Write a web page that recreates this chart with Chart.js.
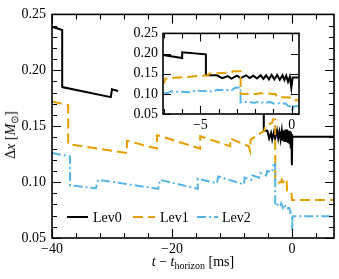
<!DOCTYPE html>
<html><head><meta charset="utf-8">
<script src="https://cdn.jsdelivr.net/npm/chart.js@4/dist/chart.umd.min.js"></script>
<style>
html,body{margin:0;padding:0;background:#fff;}
#wrap{position:relative;width:339px;height:279px;overflow:hidden;font-family:"Liberation Serif",serif;}
#main{position:absolute;left:0;top:0;}
#inset{position:absolute;left:120px;top:20px;}
.ttl{position:absolute;font-size:14px;color:#000;white-space:nowrap;line-height:1;}
.ttl sub{font-size:10px;vertical-align:-3px;line-height:0;}
#ylab{left:11px;top:135px;transform:translate(-50%,-50%) rotate(-90deg);}
#xlab{left:193px;top:262px;transform:translate(-50%,-50%);}
</style></head><body>
<div id="wrap">
<canvas id="main" width="339" height="279"></canvas>
<canvas id="inset" width="185" height="125"></canvas>
<div class="ttl" id="ylab">Δ<i>x</i> [<i>M</i><sub>⊙</sub>]</div>
<div class="ttl" id="xlab"><i>t</i> − <i>t</i><sub>horizon</sub> [ms]</div>
</div>
<script>
// ---- data (t in ms, Δx in solar masses) ----
const seriesNames = ['Lev0', 'Lev1', 'Lev2'];
const lev0T = [-40, -38.3, -38.3, -30.2, -30.0, -29.0, -20.0, -7.1, -6.0, -6.0, -4.7, -4.7, -4.1, -3.8, -3.5, -3.3, -3.0, -2.8, -2.5, -2.3, -2.1, -1.9, -1.7, -1.55, -1.4, -1.25, -1.1, -0.95, -0.8, -0.65, -0.5, -0.4, -0.3, -0.2, -0.1, -0.02, 0.05, 7];
const lev0V = [0.239, 0.236, 0.185, 0.176, 0.183, 0.1815, null, 0.197, 0.189, 0.203, 0.198, 0.146, 0.146, 0.139, 0.144, 0.138, 0.145, 0.139, 0.146, 0.139, 0.145, 0.138, 0.146, 0.137, 0.146, 0.136, 0.147, 0.136, 0.147, 0.135, 0.146, 0.134, 0.145, 0.130, 0.143, 0.115, 0.1405, 0.1405];
const lev1T = [-40, -37.3, -37.3, -27.5, -27.5, -22.5, -22.5, -15.3, -15.3, -10.3, -10.3, -7.2, -7.0, -6.9, -4.6, -4.5, -3.3, -3.2, -2.8, -2.8, -2.3, -1.8, -1.7, -1.5, -1.3, -1.1, -0.9, -0.8, -0.1, 0.0, 7];
const lev1V = [0.172, 0.169, 0.134, 0.126, 0.137, 0.130, 0.142, 0.130, 0.141, 0.132, 0.139, 0.132, 0.128, 0.138, 0.146, 0.150, 0.153, 0.156, 0.156, 0.100, 0.0995, 0.100, 0.102, 0.100, 0.102, 0.099, 0.100, 0.092, 0.091, 0.084, 0.084];
const lev2T = [-40, -37.0, -37.0, -32.7, -32.3, -22.3, -22.0, -15.7, -15.7, -12.5, -12.3, -8.0, -7.9, -6.8, -6.6, -5.5, -5.3, -4.3, -4.1, -3.3, -3.1, -2.8, -2.8, -2.5, -2.0, -1.8, -1.5, -1.2, -1.0, -0.5, -0.3, -0.2, 0.0, 0.05, 0.1, 7];
const lev2V = [0.126, 0.123, 0.097, 0.0945, 0.102, 0.094, 0.102, 0.094, 0.103, 0.099, 0.105, 0.098, 0.104, 0.102, 0.106, 0.104, 0.108, 0.106, 0.110, 0.109, 0.115, 0.116, 0.079, 0.080, 0.078, 0.081, 0.077, 0.080, 0.076, 0.077, 0.075, 0.070, 0.068, 0.057, 0.0695, 0.0695];

// ---- ticks ----
const mainXTicks = [-40, -36, -32, -28, -24, -20, -16, -12, -8, -4, 0, 4];
const mainXLabels = [-40, -20, 0];
const mainYTicks = [0.05, 0.06, 0.07, 0.08, 0.09, 0.10, 0.11, 0.12, 0.13, 0.14, 0.15, 0.16, 0.17, 0.18, 0.19, 0.20, 0.21, 0.22, 0.23, 0.24, 0.25];
const mainYLabels = [0.05, 0.10, 0.15, 0.20, 0.25];
const insetXTicks = [-7, -6, -5, -4, -3, -2, -1, 0];
const insetXLabels = [-5, 0];
const insetYTicks = [0.05, 0.10, 0.15, 0.20, 0.25];
const insetYLabels = [0.05, 0.10, 0.15, 0.20, 0.25];

const colors = ['#000000', '#E69F00', '#56B4E9'];
const dashes = [[], [10, 5], [9, 3, 2, 3]];

const FONT = {family: '"Liberation Serif", serif', size: 14};
const has = (arr, v) => arr.some(a => Math.abs(a - v) < 1e-9);
const fmtX = v => (v < 0 ? '\u2212' : '') + Math.abs(v);
const fmtY = v => v.toFixed(2);

function pts(T, V) { return T.map((t, i) => ({x: t, y: V[i]})); }
function makeDatasets() {
  const T = [lev0T, lev1T, lev2T], V = [lev0V, lev1V, lev2V];
  return seriesNames.map((n, i) => ({
    label: n, data: pts(T[i], V[i]), borderColor: colors[i], backgroundColor: colors[i],
    borderWidth: 2, borderDash: dashes[i], pointRadius: 0, tension: 0, spanGaps: false,
    fill: false, order: 3 - i
  }));
}

function frameTicks(o) {
  return {
    id: 'frameTicks' + o.name,
    beforeDatasetsDraw(chart) {
      if (!o.fill) return;
      const a = chart.chartArea, ctx = chart.ctx;
      ctx.save(); ctx.fillStyle = '#fff';
      ctx.fillRect(a.left, a.top, a.right - a.left, a.bottom - a.top);
      ctx.restore();
    },
    afterDraw(chart) {
      const a = chart.chartArea, ctx = chart.ctx, xs = chart.scales.x, ys = chart.scales.y;
      ctx.save();
      ctx.strokeStyle = '#000'; ctx.lineWidth = 1.1;
      ctx.beginPath();
      o.xTicks.forEach(v => {
        const p = Math.round(xs.getPixelForValue(v)) + 0.5;
        const L = has(o.xLabels, v) ? o.major : o.minor;
        ctx.moveTo(p, a.bottom); ctx.lineTo(p, a.bottom - L);
        ctx.moveTo(p, a.top); ctx.lineTo(p, a.top + L);
      });
      o.yTicks.forEach(v => {
        const p = Math.round(ys.getPixelForValue(v)) + 0.5;
        const L = has(o.yLabels, v) ? o.major : o.minor;
        ctx.moveTo(a.left, p); ctx.lineTo(a.left + L, p);
        ctx.moveTo(a.right, p); ctx.lineTo(a.right - L, p);
      });
      ctx.stroke();
      ctx.lineWidth = 1.6;
      ctx.strokeRect(a.left, a.top, a.right - a.left, a.bottom - a.top);
      if (o.legend) {
        const items = [[67, 88, 93], [133, 155, 160], [197, 218, 222]];
        const y = 217;
        ctx.font = '14px "Liberation Serif", serif';
        ctx.textBaseline = 'middle'; ctx.fillStyle = '#000';
        chart.data.datasets.forEach((d, i) => {
          const it = items[i];
          ctx.save();
          ctx.strokeStyle = d.borderColor; ctx.lineWidth = 2; ctx.setLineDash(d.borderDash);
          ctx.beginPath(); ctx.moveTo(it[0], y); ctx.lineTo(it[1], y); ctx.stroke();
          ctx.restore();
          ctx.fillText(d.label, it[2], y + 1);
        });
      }
      ctx.restore();
    }
  };
}

function makeChart(id, o) {
  return new Chart(document.getElementById(id), {
    type: 'line',
    data: {datasets: makeDatasets()},
    options: {
      responsive: false, animation: false, devicePixelRatio: 1, events: [],
      layout: {padding: {top: o.padTop, right: o.padRight, left: 0, bottom: 0}},
      plugins: {legend: {display: false}, tooltip: {enabled: false}},
      scales: {
        x: {
          type: 'linear', min: o.xmin, max: o.xmax,
          afterBuildTicks: s => { s.ticks = o.xTicks.map(v => ({value: v})); },
          afterFit: s => { s.height = o.xH; },
          grid: {display: true, drawOnChartArea: false, drawTicks: false},
          border: {display: false},
          ticks: {autoSkip: false, maxRotation: 0, padding: o.xPad, color: '#000', font: FONT,
            callback: v => has(o.xLabels, v) ? fmtX(v) : ''}
        },
        y: {
          type: 'linear', min: o.ymin, max: o.ymax,
          afterBuildTicks: s => { s.ticks = o.yTicks.map(v => ({value: v})); },
          afterFit: s => { s.width = o.yW; },
          grid: {display: true, drawOnChartArea: false, drawTicks: false},
          border: {display: false},
          ticks: {autoSkip: false, padding: o.yPad, color: '#000', font: FONT,
            callback: v => has(o.yLabels, v) ? fmtY(v) : ''}
        }
      }
    },
    plugins: [frameTicks(o)]
  });
}

makeChart('main', {
  name: 'main', xmin: -40, xmax: 7, ymin: 0.05, ymax: 0.25,
  xTicks: mainXTicks, xLabels: mainXLabels, yTicks: mainYTicks, yLabels: mainYLabels,
  padTop: 12, padRight: 5, xH: 41, yW: 52, xPad: 3, yPad: 6,
  major: 9, minor: 5, fill: false, legend: true
});
makeChart('inset', {
  name: 'inset', xmin: -7.05, xmax: 0.4, ymin: 0.05, ymax: 0.25,
  xTicks: insetXTicks, xLabels: insetXLabels, yTicks: insetYTicks, yLabels: insetYLabels,
  padTop: 13, padRight: 6, xH: 31, yW: 43, xPad: 3, yPad: 5,
  major: 8, minor: 5, fill: true, legend: false
});
</script>
</body></html>
